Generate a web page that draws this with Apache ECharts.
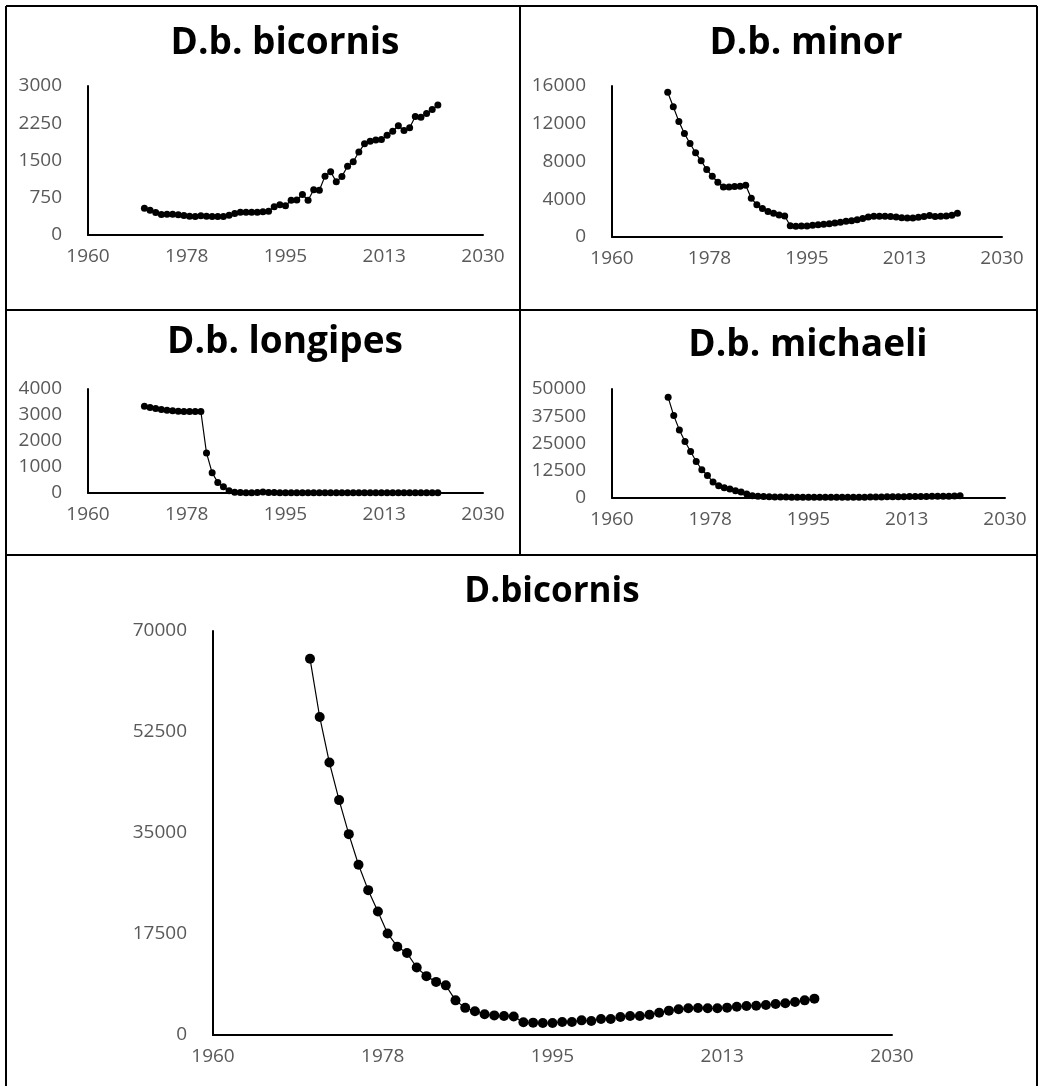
<!DOCTYPE html>
<html>
<head>
<meta charset="utf-8">
<script src="https://cdn.jsdelivr.net/npm/echarts@6/dist/echarts.min.js"></script>
<style>
  html, body { margin: 0; padding: 0; background: #fff; }
  #main { width: 1040px; height: 1086px; }
</style>
</head>
<body>
<div id="main"></div>
<script>
// years of the counts
var years = [1970, 1971, 1972, 1973, 1974, 1975, 1976, 1977, 1978, 1979,
  1980, 1981, 1982, 1983, 1984, 1985, 1986, 1987, 1988, 1989,
  1990, 1991, 1992, 1993, 1994, 1995, 1996, 1997, 1998, 1999,
  2000, 2001, 2002, 2003, 2004, 2005, 2006, 2007, 2008, 2009,
  2010, 2011, 2012, 2013, 2014, 2015, 2016, 2017, 2018, 2019,
  2020, 2021, 2022];

var bicornisVals = [540, 496, 455, 415, 420, 420, 410, 395, 380, 375,
  390, 380, 375, 375, 375, 400, 435, 460, 460, 460,
  460, 470, 480, 570, 610, 590, 700, 705, 815, 700,
  910, 900, 1185, 1275, 1070, 1180, 1385, 1475, 1670, 1835,
  1890, 1915, 1925, 2010, 2090, 2200, 2105, 2160, 2385, 2370,
  2445, 2525, 2615];

var minorVals = [15330, 13800, 12250, 10970, 9910, 8920, 8070, 7150, 6440, 5800,
  5310, 5310, 5350, 5380, 5490, 4100, 3430, 3010, 2690, 2510,
  2340, 2230, 1200, 1130, 1170, 1170, 1240, 1310, 1345, 1415,
  1490, 1560, 1660, 1735, 1840, 1950, 2120, 2195, 2195, 2195,
  2160, 2120, 2050, 2020, 2020, 2090, 2160, 2265, 2160, 2195,
  2230, 2300, 2510];

var longipesVals = [3338, 3287, 3249, 3210, 3185, 3160, 3147, 3134, 3134, 3134,
  3134, 1540, 777, 408, 242, 90, 30, 15, 12, 12,
  15, 40, 20, 15, 12, 12, 10, 10, 10, 10,
  10, 10, 10, 10, 10, 10, 10, 10, 10, 10,
  10, 10, 10, 10, 10, 10, 10, 10, 10, 10,
  10, 10, 10];

var michaeliVals = [46180, 37800, 31240, 25900, 21340, 16760, 12950, 10360, 7320, 5640,
  4720, 4110, 3350, 2740, 1830, 1070, 800, 650, 550, 500,
  480, 450, 400, 350, 320, 300, 300, 290, 290, 300,
  300, 320, 330, 350, 380, 400, 430, 470, 500, 530,
  560, 590, 620, 650, 680, 700, 720, 750, 780, 800,
  850, 900, 1000];

var totalVals = [65200, 55100, 47200, 40700, 34800, 29500, 25100, 21400, 17600, 15300,
  14200, 11700, 10200, 9200, 8600, 6000, 4700, 4100, 3600, 3400,
  3300, 3200, 2200, 2140, 2080, 2080, 2250, 2250, 2540, 2430,
  2770, 2770, 3120, 3290, 3290, 3520, 3870, 4220, 4450, 4620,
  4680, 4620, 4620, 4740, 4910, 5030, 5080, 5200, 5370, 5490,
  5720, 6000, 6300];

var titles = ["D.b. bicornis", "D.b. minor", "D.b. longipes", "D.b. michaeli", "D.bicornis"];
var yMax = [3000, 16000, 4000, 50000, 70000];
var yStep = [750, 4000, 1000, 12500, 17500];

var panels = [bicornisVals, minorVals, longipesVals, michaeliVals, totalVals];

// plot areas [left, top, width, height]
var grids = [
  [88, 86, 395, 149],
  [612, 86, 390, 151],
  [88, 389, 395, 104],
  [612, 389, 393, 109],
  [213, 631, 679, 404]
];
var titlePos = [[285, 25], [806, 25], [285, 324], [808, 327], [552, 575]];
var titleSize = [37, 37, 37, 37, 35];
var dotSize = [7, 7, 7, 7, 10];

var font = "'Open Sans', sans-serif";

function pairs(vals) {
  var out = [];
  for (var i = 0; i < years.length; i++) out.push([years[i], vals[i]]);
  return out;
}

function frameLine(x1, y1, x2, y2) {
  return { type: "line", shape: { x1: x1, y1: y1, x2: x2, y2: y2 }, style: { stroke: "#000", lineWidth: 2 } };
}

var option = {
  animation: false,
  backgroundColor: "#fff",
  title: [],
  grid: [],
  xAxis: [],
  yAxis: [],
  series: [],
  graphic: [
    frameLine(6, 6, 1037, 6),
    frameLine(6, 6, 6, 1086),
    frameLine(1037, 6, 1037, 1086),
    frameLine(520, 6, 520, 555),
    frameLine(6, 310, 1037, 310),
    frameLine(6, 555, 1037, 555)
  ]
};

for (var k = 0; k < 5; k++) {
  var g = grids[k];
  option.title.push({
    text: titles[k],
    left: titlePos[k][0],
    top: titlePos[k][1],
    textAlign: "center",
    padding: 0,
    textStyle: { fontFamily: font, fontWeight: "bold", fontSize: titleSize[k], color: "#000" }
  });
  option.grid.push({ left: g[0], top: g[1], width: g[2], height: g[3], containLabel: false });
  option.xAxis.push({
    type: "value",
    gridIndex: k,
    min: 1960,
    max: 2030,
    interval: 17.5,
    splitLine: { show: false },
    axisTick: { show: false },
    axisLine: { onZero: false, lineStyle: { color: "#000", width: 2 } },
    axisLabel: {
      color: "#595959",
      fontFamily: font,
      fontSize: 19,
      margin: 12,
      formatter: function (v) { return String(Math.round(v)); }
    }
  });
  option.yAxis.push({
    type: "value",
    gridIndex: k,
    min: 0,
    max: yMax[k],
    interval: yStep[k],
    splitLine: { show: false },
    axisTick: { show: false },
    axisLine: { show: true, lineStyle: { color: "#000", width: 2 } },
    axisLabel: {
      color: "#595959",
      fontFamily: font,
      fontSize: 19,
      margin: 26,
      formatter: function (v) { return String(v); }
    }
  });
  option.series.push({
    type: "line",
    xAxisIndex: k,
    yAxisIndex: k,
    data: pairs(panels[k]),
    symbol: "circle",
    symbolSize: dotSize[k],
    showSymbol: true,
    lineStyle: { color: "#000", width: 1.2 },
    itemStyle: { color: "#000" }
  });
}

var myChart = echarts.init(document.getElementById("main"));
myChart.setOption(option);
</script>
</body>
</html>
